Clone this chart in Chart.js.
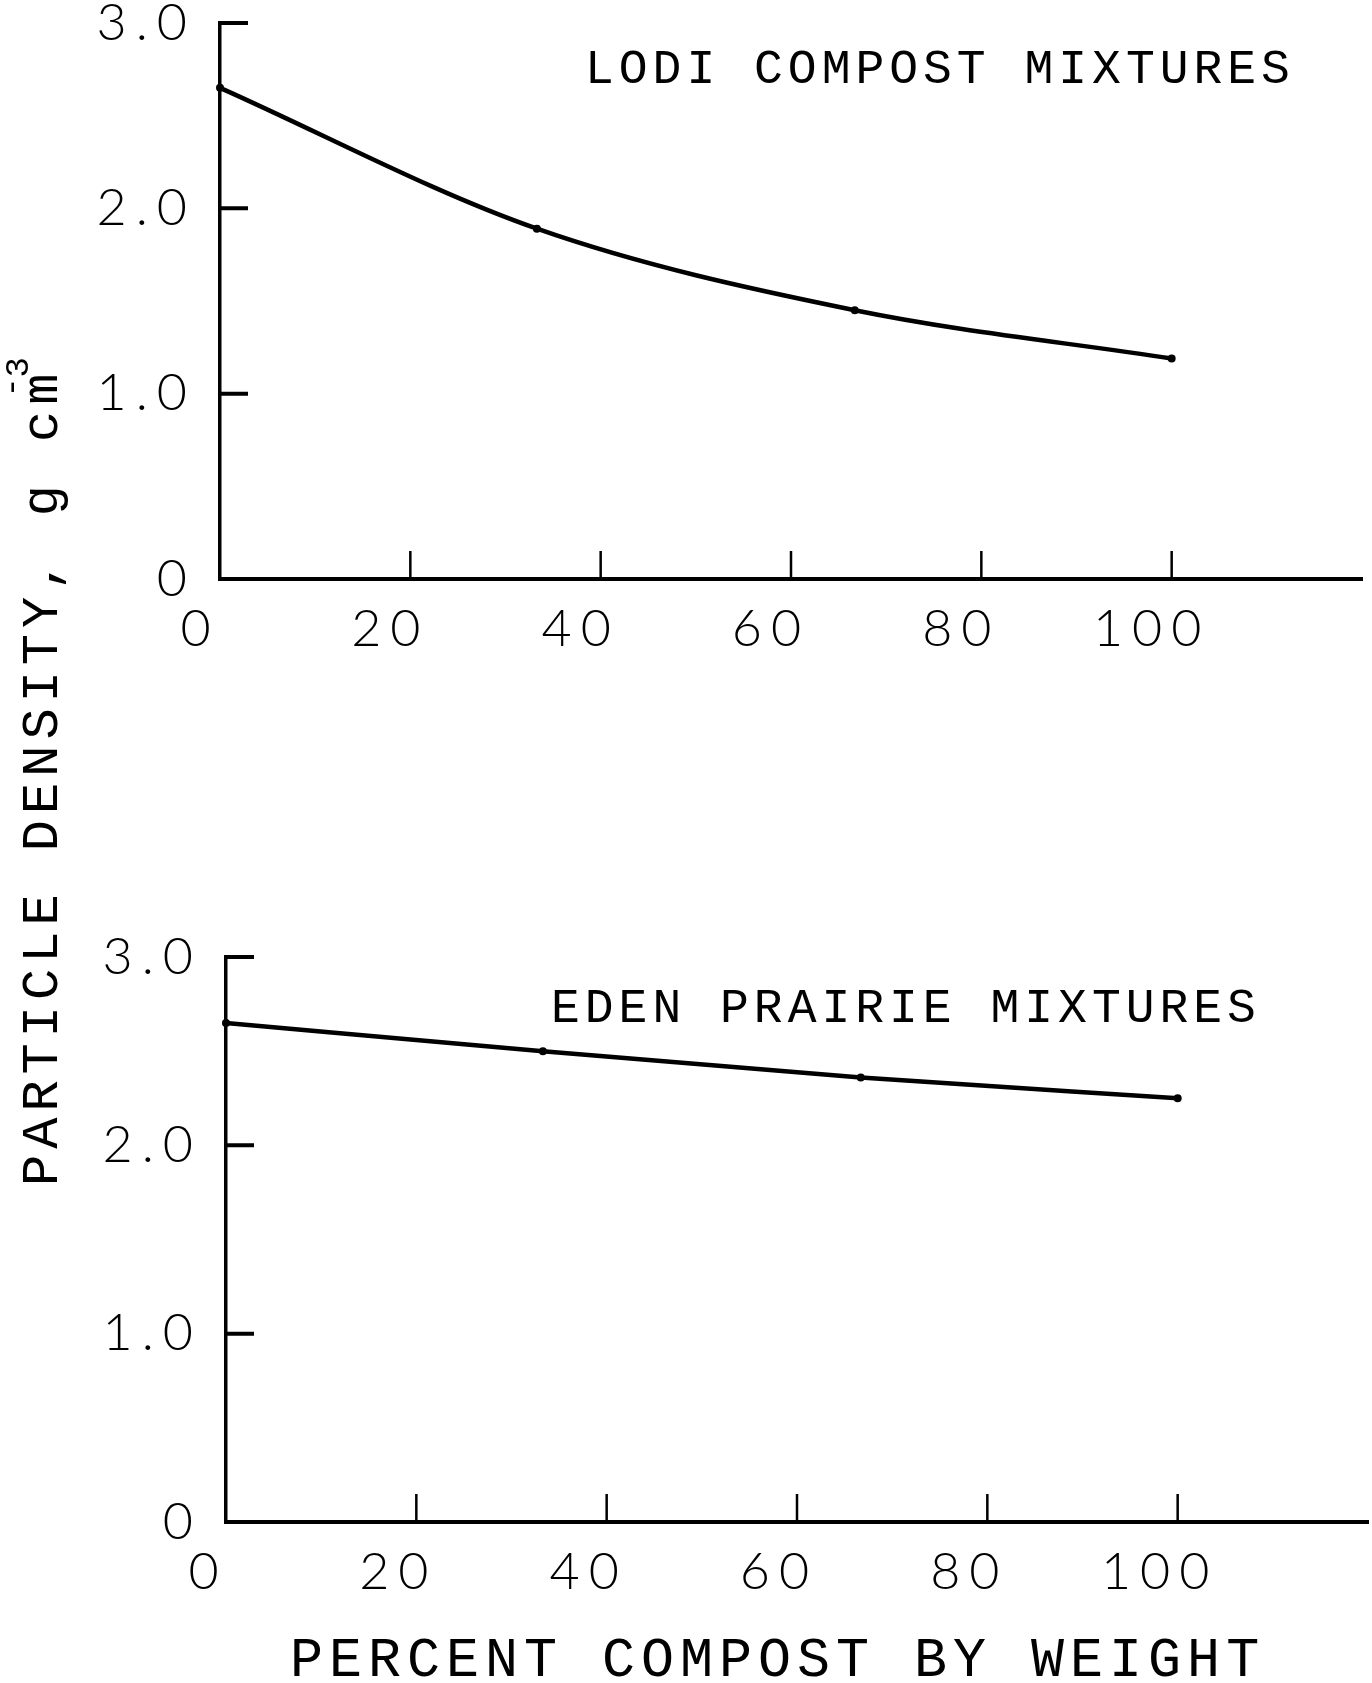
<!DOCTYPE html>
<html>
<head>
<meta charset="utf-8">
<script src="https://cdn.jsdelivr.net/npm/chart.js@4.4.0/dist/chart.umd.min.js"></script>
<style>
  html, body { margin: 0; padding: 0; background: #fff; }
  #wrap { position: relative; width: 1372px; height: 1683px; overflow: hidden; }
  #wrap canvas { position: absolute; left: 0; top: 0; }
</style>
</head>
<body>
<div id="wrap">
  <canvas id="lodiChart" width="1372" height="1683"></canvas>
  <canvas id="edenChart" width="1372" height="1683"></canvas>
</div>
<script>
(function () {
    "use strict";

    // percent compost by weight, and particle density (g cm-3) of each mixture
    const compostPct = [0, 33.3, 66.7, 100];
    const lodiDensity = [2.65, 1.89, 1.45, 1.19];
    const edenDensity = [2.65, 2.50, 2.36, 2.25];

    const xTickValues = [0, 20, 40, 60, 80, 100];
    const yTickValues = [0, 1, 2, 3];

    const textFont = "'Liberation Mono', 'DejaVu Sans Mono', monospace";
    const numFont = "Lato, 'Liberation Sans', 'DejaVu Sans', sans-serif";

    const toPoints = (xs, ys) => xs.map((x, i) => ({ x: x, y: ys[i] }));

    // tick marks point into the plot, like the old plotter output
    const inwardTicks = {
        id: 'inwardTicks',
        afterDraw(chart) {
            const { ctx, chartArea, scales } = chart;
            ctx.save();
            ctx.strokeStyle = '#000';
            ctx.lineWidth = 2.5;
            ctx.beginPath();
            scales.x.ticks.forEach(t => {
                if (t.value === 0) return;
                const px = scales.x.getPixelForValue(t.value);
                ctx.moveTo(px, chartArea.bottom);
                ctx.lineTo(px, chartArea.bottom - 28);
            });
            ctx.stroke();
            ctx.lineWidth = 4;
            ctx.beginPath();
            scales.y.ticks.forEach(t => {
                if (t.value === 0) return;
                const py = scales.y.getPixelForValue(t.value);
                ctx.moveTo(chartArea.left, py);
                ctx.lineTo(chartArea.left + 28, py);
            });
            ctx.stroke();
            ctx.restore();
        }
    };

    // wide letter spacing for tick labels
    const spacing = {
        id: 'spacing',
        beforeUpdate(chart) { chart.ctx.letterSpacing = '9px'; }
    };

    // panel caption inside the plot
    const caption = {
        id: 'caption',
        afterDraw(chart, args, opts) {
            const ctx = chart.ctx;
            ctx.save();
            ctx.letterSpacing = '5px';
            ctx.font = '48px ' + textFont;
            ctx.fillStyle = '#000';
            ctx.textAlign = 'left';
            ctx.textBaseline = 'middle';
            ctx.fillText(opts.text, opts.x, opts.y);
            ctx.restore();
        }
    };

    // shared axis titles, drawn once on the lower chart
    const axisTitles = {
        id: 'axisTitles',
        afterDraw(chart, args, opts) {
            if (!opts.draw) return;
            const ctx = chart.ctx;
            ctx.save();
            ctx.fillStyle = '#000';
            ctx.textBaseline = 'middle';
            ctx.textAlign = 'left';
            ctx.letterSpacing = '6px';
            ctx.font = '55px ' + textFont;
            ctx.fillText('PERCENT COMPOST BY WEIGHT', 290, 1661);

            ctx.translate(43, 1186);
            ctx.rotate(-Math.PI / 2);
            ctx.letterSpacing = '6px';
            ctx.font = '52px ' + textFont;
            const main = 'PARTICLE DENSITY, g cm';
            ctx.fillText(main, 0, 0);
            const w = ctx.measureText(main).width;
            ctx.letterSpacing = '0px';
            ctx.font = '34px ' + textFont;
            ctx.fillText('-', w - 30, -30);
            ctx.fillText('3', w - 10, -24);
            ctx.restore();
        }
    };

    function makeOptions(area, yWidth, labelOffset, captionOpts, drawTitles) {
        return {
            responsive: false,
            devicePixelRatio: 1,
            animation: false,
            layout: { padding: area },
            plugins: {
                legend: { display: false },
                tooltip: { enabled: false },
                caption: captionOpts,
                axisTitles: { draw: drawTitles }
            },
            scales: {
                x: {
                    type: 'linear',
                    min: 0,
                    max: 120,
                    afterBuildTicks: s => { s.ticks = xTickValues.map(v => ({ value: v })); },
                    afterFit: s => { s.height = 91; s.paddingLeft = 0; s.paddingRight = 0; },
                    grid: { display: true, drawOnChartArea: false, drawTicks: false },
                    border: { display: true, color: '#000', width: 4 },
                    ticks: {
                        color: '#000',
                        font: { family: numFont, size: 52, weight: 300, lineHeight: 1 },
                        padding: 24,
                        labelOffset: labelOffset,
                        maxRotation: 0,
                        autoSkip: false,
                        callback: v => String(v)
                    }
                },
                y: {
                    type: 'linear',
                    min: 0,
                    max: 3,
                    afterBuildTicks: s => { s.ticks = yTickValues.map(v => ({ value: v })); },
                    afterFit: s => { s.width = yWidth; s.paddingTop = 0; s.paddingBottom = 0; },
                    grid: { display: true, drawOnChartArea: false, drawTicks: false },
                    border: { display: true, color: '#000', width: 3.5 },
                    ticks: {
                        color: '#000',
                        font: { family: numFont, size: 52, weight: 300, lineHeight: 1 },
                        padding: 24,
                        autoSkip: false,
                        callback: v => v === 0 ? '0' : v.toFixed(1)
                    }
                }
            }
        };
    }

    function lineDataset(values) {
        return {
            data: toPoints(compostPct, values),
            borderColor: '#000',
            backgroundColor: '#000',
            borderWidth: 4.5,
            pointRadius: 4,
            pointBackgroundColor: '#000',
            pointBorderWidth: 0,
            cubicInterpolationMode: 'monotone',
            fill: false,
            clip: false
        };
    }

    /* Lodi compost mixtures */
    new Chart(document.getElementById('lodiChart'), {
        type: 'line',
        data: { datasets: [lineDataset(lodiDensity)] },
        options: makeOptions(
            { top: 23, right: 10, bottom: 1683 - 579 - 91, left: 0 },
            220, -20,
            { text: 'LODI COMPOST MIXTURES', x: 585, y: 70 },
            false),
        plugins: [spacing, inwardTicks, caption, axisTitles]
    });

    /* Eden Prairie mixtures */
    new Chart(document.getElementById('edenChart'), {
        type: 'line',
        data: { datasets: [lineDataset(edenDensity)] },
        options: makeOptions(
            { top: 957, right: 4, bottom: 1683 - 1522 - 91, left: 0 },
            226, -18,
            { text: 'EDEN PRAIRIE MIXTURES', x: 551, y: 1009 },
            true),
        plugins: [spacing, inwardTicks, caption, axisTitles]
    });
})();
</script>
</body>
</html>
